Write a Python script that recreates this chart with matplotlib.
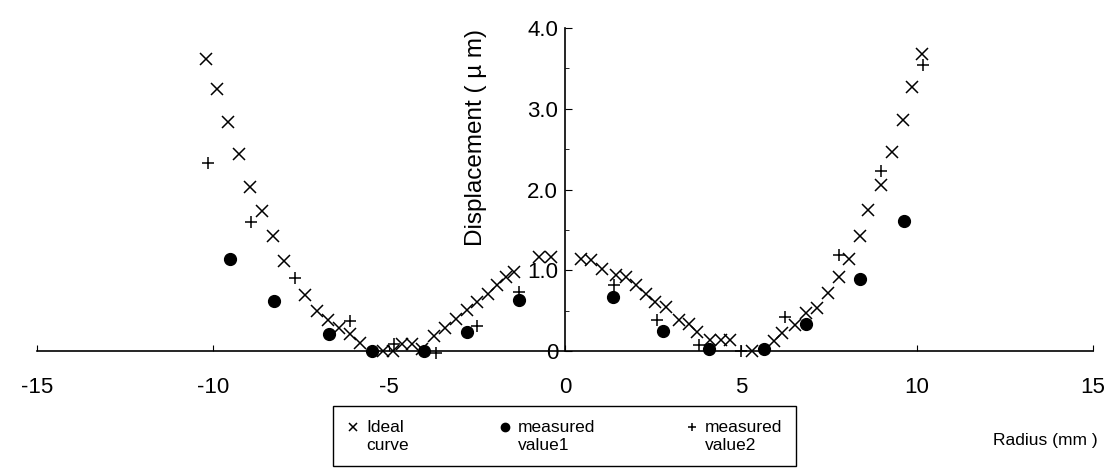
import matplotlib
matplotlib.use('Agg')
import matplotlib.pyplot as plt
from matplotlib.ticker import MultipleLocator

plt.rcParams['font.family'] = ['Liberation Sans', 'DejaVu Sans']
plt.rcParams['axes.unicode_minus'] = False

# ideal curve (x marks)
ideal_r = [-10.19, -9.88, -9.57, -9.27, -8.94, -8.60, -8.30, -7.98, -7.38, -7.04,
           -6.72, -6.41, -6.11, -5.82, -5.16, -4.88, -4.62, -4.35, -4.05, -3.72,
           -3.40, -3.10, -2.79, -2.49, -2.20, -1.92, -1.68, -1.45, -0.74, -0.40,
           0.45, 0.73, 1.06, 1.44, 1.72, 2.01, 2.29, 2.57, 2.86, 3.23,
           3.52, 3.75, 4.13, 4.42, 4.70, 5.31, 5.93, 6.16, 6.52, 6.84,
           7.15, 7.47, 7.77, 8.06, 8.39, 8.62, 8.98, 9.29, 9.59, 9.87, 10.14]
ideal_d = [3.62, 3.24, 2.84, 2.44, 2.03, 1.73, 1.42, 1.12, 0.69, 0.49,
           0.39, 0.29, 0.21, 0.10, 0.0, 0.0, 0.09, 0.09, 0.03, 0.19,
           0.29, 0.40, 0.51, 0.61, 0.71, 0.82, 0.92, 0.98, 1.16, 1.16,
           1.14, 1.13, 1.02, 0.94, 0.92, 0.82, 0.71, 0.61, 0.55, 0.38,
           0.34, 0.24, 0.14, 0.14, 0.14, 0.0, 0.13, 0.22, 0.32, 0.47,
           0.53, 0.72, 0.92, 1.14, 1.42, 1.75, 2.06, 2.46, 2.86, 3.27, 3.68]

# measured value1 (dots)
m1_r = [-9.53, -8.28, -6.71, -5.47, -4.00, -2.78, -1.30, 1.37, 2.79, 4.09, 5.65, 6.85, 8.38, 9.62]
m1_d = [1.14, 0.62, 0.21, 0.0, 0.0, 0.23, 0.63, 0.67, 0.25, 0.02, 0.02, 0.33, 0.89, 1.61]

# measured value2 (plus marks)
m2_r = [-10.15, -8.92, -7.68, -6.12, -4.87, -3.67, -2.49, -1.30, 1.39, 2.60, 3.80, 5.01, 6.24, 7.79, 8.98, 10.16]
m2_d = [2.33, 1.60, 0.90, 0.37, 0.09, -0.02, 0.31, 0.73, 0.82, 0.38, 0.07, 0.0, 0.42, 1.19, 2.23, 3.54]

x_ticks = [-15, -10, -5, 0, 5, 10, 15]
y_ticks = [0, 1, 2, 3, 4]
y_labels = ['0', '1.0', '2.0', '3.0', '4.0']

W, H = 1114, 474
fig = plt.figure(figsize=(W / 100, H / 100), dpi=100)
ax = fig.add_axes([37 / W, 123 / H, 1056 / W, 323 / H])

ax.plot(ideal_r, ideal_d, ls='none', marker='x', ms=8, mew=1.1, color='black',
        clip_on=False, label='Ideal\ncurve')
ax.plot(m1_r, m1_d, ls='none', marker='o', ms=8.5, color='black',
        clip_on=False, label='measured\nvalue1')
ax.plot(m2_r, m2_d, ls='none', marker='+', ms=9, mew=1.1, color='black',
        clip_on=False, label='measured\nvalue2')

ax.set_xlim(-15, 15)
ax.set_ylim(0, 4)
ax.spines['top'].set_visible(False)
ax.spines['right'].set_visible(False)
ax.spines['left'].set_position(('data', 0))
ax.spines['left'].set_linewidth(1.2)
ax.spines['bottom'].set_linewidth(1.2)

ax.set_xticks(x_ticks)
ax.set_xticklabels([str(v) for v in x_ticks])
ax.set_yticks(y_ticks)
ax.set_yticklabels(y_labels)
ax.yaxis.set_minor_locator(MultipleLocator(0.5))
ax.tick_params(axis='x', direction='in', length=4, pad=19, labelsize=16)
ax.tick_params(axis='y', which='major', direction='in', length=5, pad=5, labelsize=16)
ax.tick_params(axis='y', which='minor', direction='in', length=3)

fig.text(476 / W, 1 - 137 / H, 'Displacement ( \u00b5 m)', rotation=90,
         ha='center', va='center', fontsize=17.5)
fig.text(1098 / W, 1 - 440 / H, 'Radius (mm )', ha='right', va='center', fontsize=12.5)

leg_fs = 12.5
leg = ax.legend(ncol=3, loc='upper left', mode='expand',
                bbox_to_anchor=(333 / W, 1 - 411 / H, 463 / W, 0.01),
                bbox_transform=fig.transFigure, frameon=True, fancybox=False,
                edgecolor='black', framealpha=1, fontsize=leg_fs, handlelength=0.7,
                handletextpad=0.4, borderpad=0.8, borderaxespad=0)
leg.get_frame().set_linewidth(1.0)
for h in leg.legend_handles:
    h.set_markersize(6)
    # sit the key symbol beside the first line of its two-line label
    h.set_ydata([v + 0.55 * leg_fs for v in h.get_ydata()])

fig.savefig('out.png', dpi=100)
